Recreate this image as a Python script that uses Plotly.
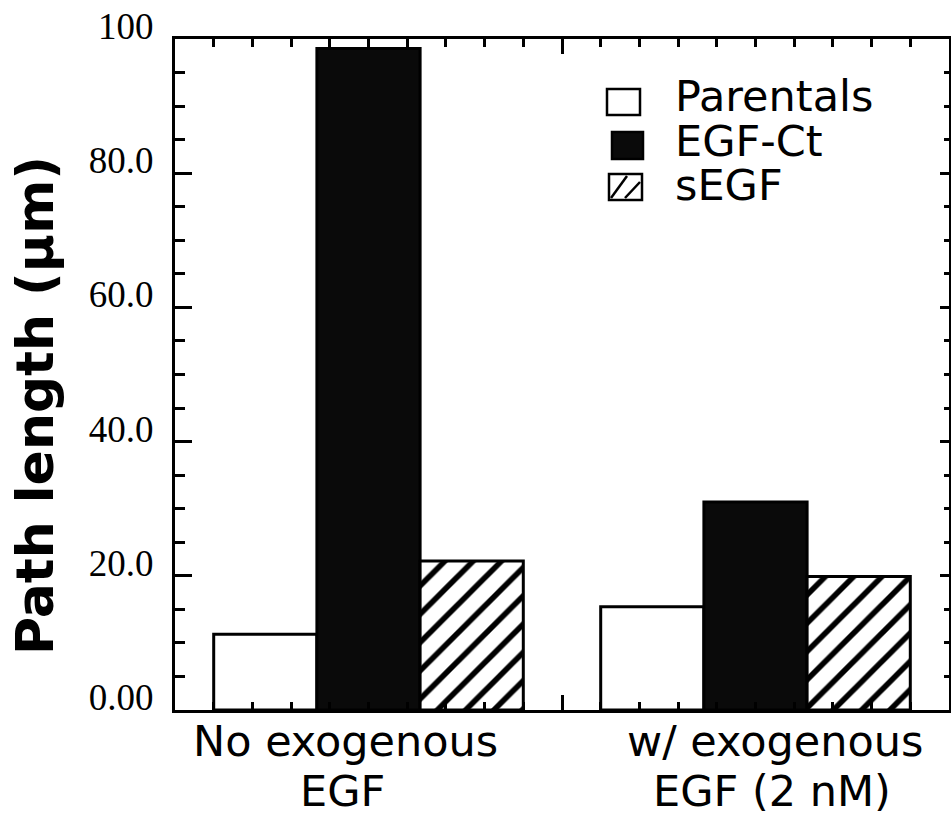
import plotly.graph_objects as go

# ---- data ----
group_x = [5, 15]
group_labels_line1 = ["No exogenous", "w/ exogenous"]
group_labels_line2 = ["EGF", "EGF (2 nM)"]
series_names = ["Parentals", "EGF-Ct", "sEGF"]
parentals = [11.3, 15.4]
egf_ct = [98.6, 31.0]
segf = [22.2, 19.9]
y_tickvals = [0, 20, 40, 60, 80, 100]
y_ticktext = ["0.00", "20.0", "40.0", "60.0", "80.0", "100"]

W, H = 951, 820
L, R, T, B = 175, 949, 39, 710  # plot area in px


def px_x(px):
    return (px - L) / (R - L)


def px_y(py):
    return (B - py) / (B - T)


fig = go.Figure()
fig.add_trace(go.Bar(x=group_x, y=parentals, name=series_names[0],
                     marker=dict(color="white", line=dict(color="black", width=3))))
fig.add_trace(go.Bar(x=group_x, y=egf_ct, name=series_names[1],
                     marker=dict(color="#0a0a0a", line=dict(color="black", width=3))))
fig.add_trace(go.Bar(x=group_x, y=segf, name=series_names[2],
                     marker=dict(color="white", line=dict(color="black", width=3),
                                 pattern=dict(shape="/", fgcolor="black", bgcolor="white",
                                              fgopacity=1, size=20, solidity=0.28))))
# invisible trace so that the mirrored top/right axes (with their own minor ticks) are drawn
fig.add_trace(go.Scatter(x=group_x, y=parentals, xaxis="x2", yaxis="y2", mode="markers",
                         marker=dict(opacity=0), hoverinfo="skip", showlegend=False))

axis_common = dict(showline=True, linecolor="black", linewidth=3, mirror=True,
                   showgrid=False, zeroline=False, ticks="inside", tickcolor="black",
                   automargin=False, layer="above traces")

fig.update_layout(
    xaxis=dict(range=[0, 20], tickvals=[0, 10, 20], ticklen=15, tickwidth=2.5,
               showticklabels=False,
               minor=dict(dtick=1, tick0=0, ticks="inside", ticklen=8, tickwidth=2.5,
                          tickcolor="black", showgrid=False),
               **axis_common),
    yaxis=dict(range=[0, 100], tickvals=y_tickvals, ticktext=y_ticktext,
               ticklen=17, tickwidth=2.5,
               tickfont=dict(family="Liberation Serif", size=37, color="black"),
               ticklabelstandoff=11, ticklabelshift=-13,
               minor=dict(dtick=5, tick0=0, ticks="inside", ticklen=10, tickwidth=2.5,
                          tickcolor="black", showgrid=False),
               **axis_common),
    xaxis2=dict(overlaying="x", side="top", anchor="y", range=[0, 20], tickvals=[0, 10, 20],
                ticks="inside", ticklen=15, tickwidth=2.5, tickcolor="black",
                showticklabels=False, showgrid=False, zeroline=False, showline=True,
                linecolor="black", linewidth=3, automargin=False, layer="above traces",
                minor=dict(dtick=1, tick0=0, ticks="inside", ticklen=8, tickwidth=2.5,
                           tickcolor="black", showgrid=False)),
    yaxis2=dict(overlaying="y", side="right", anchor="x", range=[0, 100], tickvals=y_tickvals,
                ticks="inside", ticklen=9, tickwidth=2.5, tickcolor="black",
                showticklabels=False, showgrid=False, zeroline=False, showline=True,
                linecolor="black", linewidth=3, automargin=False, layer="above traces",
                minor=dict(dtick=5, tick0=0, ticks="inside", ticklen=5, tickwidth=2.5,
                           tickcolor="black", showgrid=False)),
)

annotations = []
# category labels
label_font = dict(family="DejaVu Sans", size=43, color="black")
label_cx = [345, 775]
for i in range(len(group_x)):
    annotations.append(dict(xref="paper", yref="paper", x=px_x(label_cx[i]), y=px_y(741),
                            text=group_labels_line1[i], showarrow=False,
                            xanchor="center", yanchor="middle", font=label_font))
    annotations.append(dict(xref="paper", yref="paper", x=px_x(label_cx[i] - 3), y=px_y(791),
                            text=group_labels_line2[i], showarrow=False,
                            xanchor="center", yanchor="middle", font=label_font))

# y title
annotations.append(dict(xref="paper", yref="paper", x=px_x(35), y=px_y(406),
                        text="Path length (µm)", textangle=-90, showarrow=False,
                        xanchor="center", yanchor="middle",
                        font=dict(family="DejaVu Sans", size=52, color="black", weight="bold")))

# custom legend
legend_font = dict(family="DejaVu Sans", size=43, color="black")
legend_rows = [96, 141, 185]
shapes = []
sw = [(607, 640, 89, 115, "white"), (612, 643, 132, 159, "#0a0a0a"), (609, 642, 174, 200, "white")]
for i, (x0, x1, y0, y1, fc) in enumerate(sw):
    shapes.append(dict(type="rect", xref="paper", yref="paper",
                       x0=px_x(x0), x1=px_x(x1), y0=px_y(y1), y1=px_y(y0),
                       fillcolor=fc, line=dict(color="black", width=2.5)))
    annotations.append(dict(xref="paper", yref="paper", x=px_x(673), y=px_y(legend_rows[i]),
                            text=series_names[i], showarrow=False,
                            xanchor="left", yanchor="middle", font=legend_font))
# hatch lines for sEGF swatch
x0, x1, y0, y1 = 609, 642, 174, 200
for (ax, ay, bx, by) in [(x0 + 2, y1 - 2, x0 + 18, y0 + 2), (x0 + 16, y1 - 2, x1 - 2, y0 + 8)]:
    shapes.append(dict(type="line", xref="paper", yref="paper",
                       x0=px_x(ax), y0=px_y(ay), x1=px_x(bx), y1=px_y(by),
                       line=dict(color="black", width=2.5)))

fig.update_layout(width=W, height=H, barmode="group", bargap=0.2, bargroupgap=0,
                  showlegend=False, plot_bgcolor="white", paper_bgcolor="white",
                  margin=dict(l=L, r=W - R, t=T, b=H - B, pad=0, autoexpand=False),
                  annotations=annotations, shapes=shapes)

fig.write_html("out.html", config={"displayModeBar": False},
               post_script="document.body.style.margin='0';document.body.style.overflow='hidden';")
